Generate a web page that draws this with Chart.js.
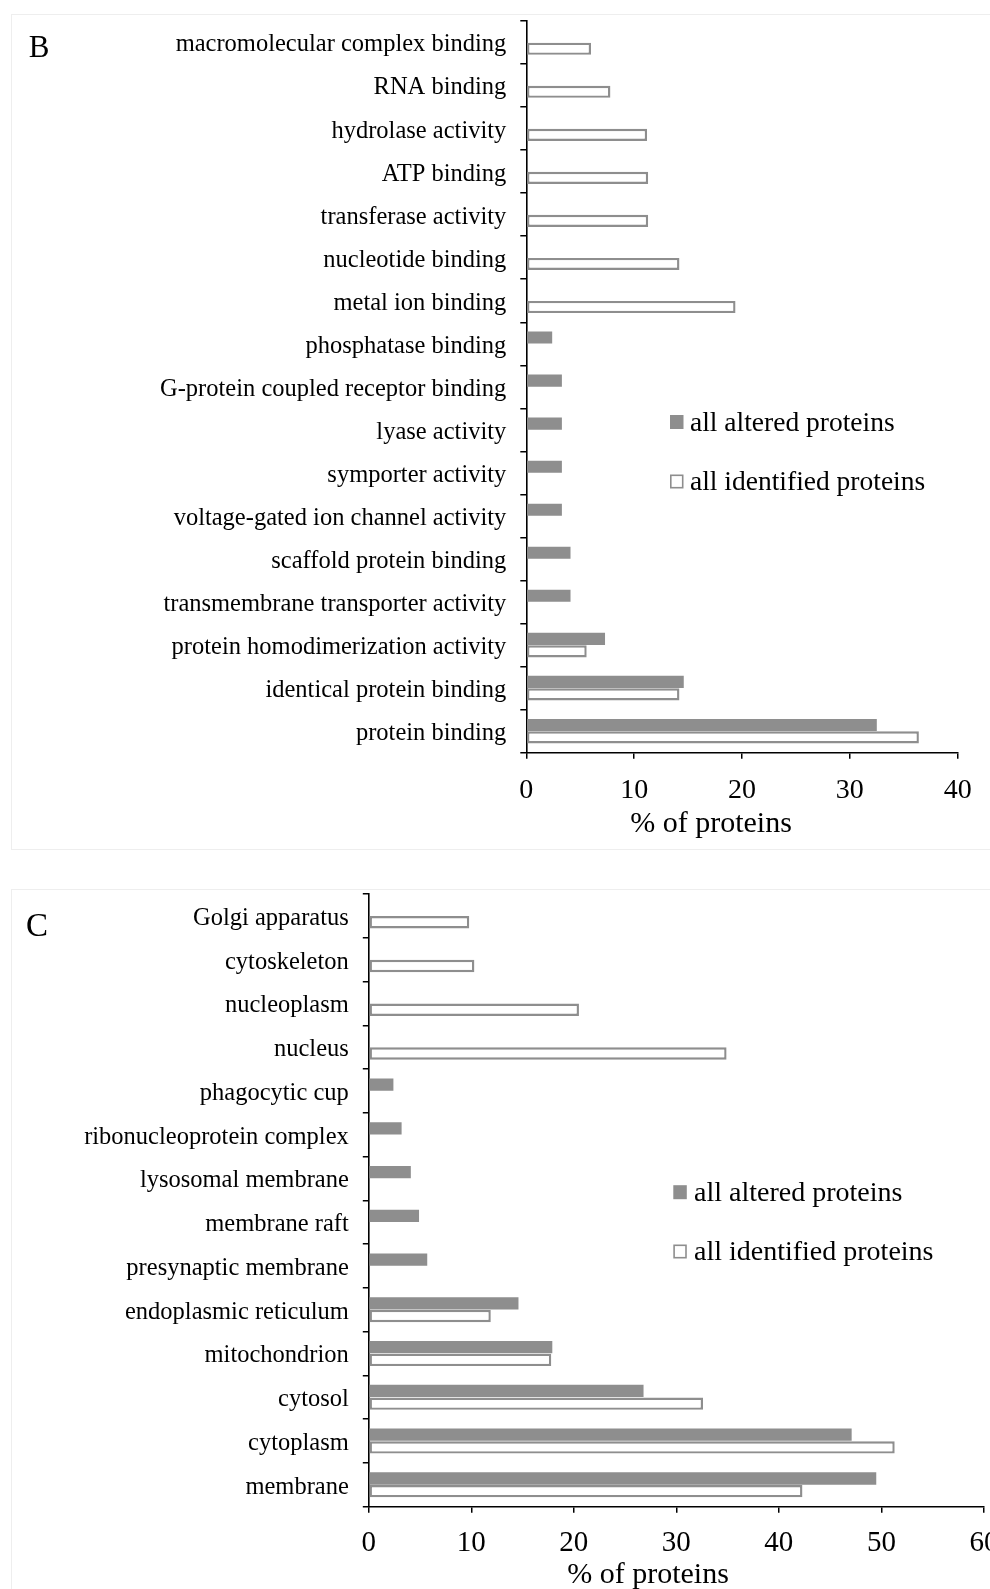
<!DOCTYPE html>
<html>
<head>
<meta charset="utf-8">
<title>GO term distribution</title>
<script src="https://cdn.jsdelivr.net/npm/chart.js@4.4.0/dist/chart.umd.min.js"></script>
<style>
    html, body { margin: 0; padding: 0; background: #fff; overflow: hidden; }
    #page { position: relative; width: 990px; height: 1589px; overflow: hidden; }
    .panel-box { position: absolute; border: 1px solid #eeeeee; box-sizing: border-box; }
    canvas { position: absolute; left: 0; }
</style>
</head>
<body>
<div id="page">
    <div class="panel-box" style="left:11px; top:14px; width:1000px; height:836px;"></div>
    <div class="panel-box" style="left:11px; top:889px; width:1000px; height:760px;"></div>
    <canvas id="chartB" width="990" height="860" style="top:0;"></canvas>
    <canvas id="chartC" width="1020" height="729" style="top:860px;"></canvas>
</div>

<script>
// --- Panel B: molecular function ---
const labelsB = [
    'macromolecular complex binding', 'RNA binding', 'hydrolase activity', 'ATP binding',
    'transferase activity', 'nucleotide binding', 'metal ion binding', 'phosphatase binding',
    'G-protein coupled receptor binding', 'lyase activity', 'symporter activity',
    'voltage-gated ion channel activity', 'scaffold protein binding',
    'transmembrane transporter activity', 'protein homodimerization activity',
    'identical protein binding', 'protein binding'
];
const alteredB    = [null, null, null, null, null, null, null, 2.4, 3.3, 3.3, 3.3, 3.3, 4.1, 4.1, 7.3, 14.6, 32.5];
const identifiedB = [6.0, 7.8, 11.2, 11.3, 11.3, 14.2, 19.4, null, null, null, null, null, null, null, 5.6, 14.2, 36.4];
const ticksB = [0, 10, 20, 30, 40];

// --- Panel C: cellular component ---
const labelsC = [
    'Golgi apparatus', 'cytoskeleton', 'nucleoplasm', 'nucleus', 'phagocytic cup',
    'ribonucleoprotein complex', 'lysosomal membrane', 'membrane raft', 'presynaptic membrane',
    'endoplasmic reticulum', 'mitochondrion', 'cytosol', 'cytoplasm', 'membrane'
];
const alteredC    = [null, null, null, null, 2.4, 3.2, 4.1, 4.9, 5.7, 14.6, 17.9, 26.8, 47.1, 49.5];
const identifiedC = [9.8, 10.3, 20.5, 34.9, null, null, null, null, null, 11.9, 17.8, 32.6, 51.3, 42.3];
const ticksC = [0, 10, 20, 30, 40, 50, 60];

const seriesNames = ['all altered proteins', 'all identified proteins'];
const axisTitle = '% of proteins';

const THEME = {
    bar: '#8e8e8e',
    hollow: '#ffffff',
    ink: '#000000',
    serif: "'Liberation Serif', 'Times New Roman', serif"
};

// Draws panel letter, axis title and the inline legend
const panelDecor = {
    id: 'panelDecor',
    afterDraw(chart, args, o) {
        const ctx = chart.ctx;
        ctx.save();
        ctx.fillStyle = THEME.ink;
        ctx.textBaseline = 'alphabetic';

        ctx.textAlign = 'center';
        ctx.font = o.letterSize + 'px ' + THEME.serif;
        ctx.fillText(o.letter, o.letterX, o.letterY);

        ctx.font = o.titleSize + 'px ' + THEME.serif;
        ctx.fillText(axisTitle, o.titleX, o.titleY);

        ctx.textAlign = 'left';
        ctx.font = o.legendSize + 'px ' + THEME.serif;
        chart.data.datasets.forEach((ds, i) => {
            const base = o.legendY[i];
            const x = o.legendX, w = 13.5, h = 14, top = base - 15.5;
            ctx.fillStyle = ds.backgroundColor;
            ctx.fillRect(x, top, w, h);
            if (ds.borderWidth) {
                ctx.strokeStyle = ds.borderColor;
                ctx.lineWidth = 1.6;
                ctx.strokeRect(x + 0.8, top + 0.8, w - 1.6, h - 1.6);
            }
            ctx.fillStyle = THEME.ink;
            ctx.fillText(ds.label, o.legendTextX, base);
        });
        ctx.restore();
    }
};

function buildPanel(canvasId, labels, altered, identified, ticks, cfg) {
    return new Chart(document.getElementById(canvasId), {
        type: 'bar',
        data: {
            labels: labels,
            datasets: [
                {
                    label: seriesNames[0],
                    data: altered,
                    backgroundColor: THEME.bar,
                    borderWidth: 0,
                    categoryPercentage: cfg.catPct,
                    barPercentage: cfg.barPct
                },
                {
                    label: seriesNames[1],
                    data: identified,
                    backgroundColor: THEME.hollow,
                    borderColor: THEME.bar,
                    borderWidth: 2.4,
                    borderSkipped: false,
                    categoryPercentage: cfg.catPct,
                    barPercentage: cfg.barPct
                }
            ]
        },
        options: {
            indexAxis: 'y',
            responsive: false,
            animation: false,
            events: [],
            layout: { padding: { top: cfg.top, right: cfg.right, left: 0, bottom: 0 } },
            plugins: {
                legend: { display: false },
                tooltip: { enabled: false },
                panelDecor: cfg.decor
            },
            scales: {
                y: {
                    type: 'category',
                    offset: true,
                    grid: { offset: true, drawOnChartArea: false, tickLength: 6, color: THEME.ink, lineWidth: 1.5 },
                    border: { color: THEME.ink, width: 1.6 },
                    ticks: {
                        color: THEME.ink,
                        font: { family: THEME.serif, size: cfg.labelSize },
                        padding: 14,
                        labelOffset: 2.5,
                        autoSkip: false
                    },
                    afterFit: (scale) => {
                        scale.width = cfg.left;
                        // keep the plot top where the reference has it
                        scale.paddingTop = 0;
                        scale.paddingBottom = 0;
                    }
                },
                x: {
                    min: ticks[0],
                    max: ticks[ticks.length - 1],
                    grid: { drawOnChartArea: false, tickLength: 6, color: THEME.ink, lineWidth: 1.5 },
                    border: { color: THEME.ink, width: 1.5 },
                    ticks: {
                        stepSize: ticks[1] - ticks[0],
                        color: THEME.ink,
                        font: { family: THEME.serif, size: cfg.tickSize },
                        padding: cfg.tickPad,
                        maxRotation: 0
                    },
                    afterFit: (scale) => {
                        scale.height = cfg.xHeight;
                        scale.paddingLeft = 0;
                        scale.paddingRight = 0;
                    }
                }
            }
        },
        plugins: [panelDecor]
    });
}

window.addEventListener('DOMContentLoaded', () => {
    if (typeof Chart === 'undefined') {
        console.warn('Chart.js is not loaded.');
        return;
    }

    buildPanel('chartB', labelsB, alteredB, identifiedB, ticksB, {
        left: 526.3, top: 21, right: 32.3, xHeight: 107.3,
        catPct: 0.58, barPct: 0.97, labelSize: 24.5, tickSize: 28, tickPad: 15,
        decor: {
            letter: 'B', letterSize: 31, letterX: 39, letterY: 57,
            titleSize: 30, titleX: 711, titleY: 831.7,
            legendSize: 27.5, legendX: 670, legendTextX: 690, legendY: [430.5, 490]
        }
    });

    buildPanel('chartC', labelsC, alteredC, identifiedC, ticksC, {
        left: 368.8, top: 34, right: 36.1, xHeight: 82.3,
        catPct: 0.58, barPct: 0.97, labelSize: 24.5, tickSize: 29, tickPad: 13,
        decor: {
            letter: 'C', letterSize: 33, letterX: 37, letterY: 76,
            titleSize: 30, titleX: 648, titleY: 723.3,
            legendSize: 28, legendX: 673.3, legendTextX: 694, legendY: [340.7, 400]
        }
    });
});
</script>
</body>
</html>
